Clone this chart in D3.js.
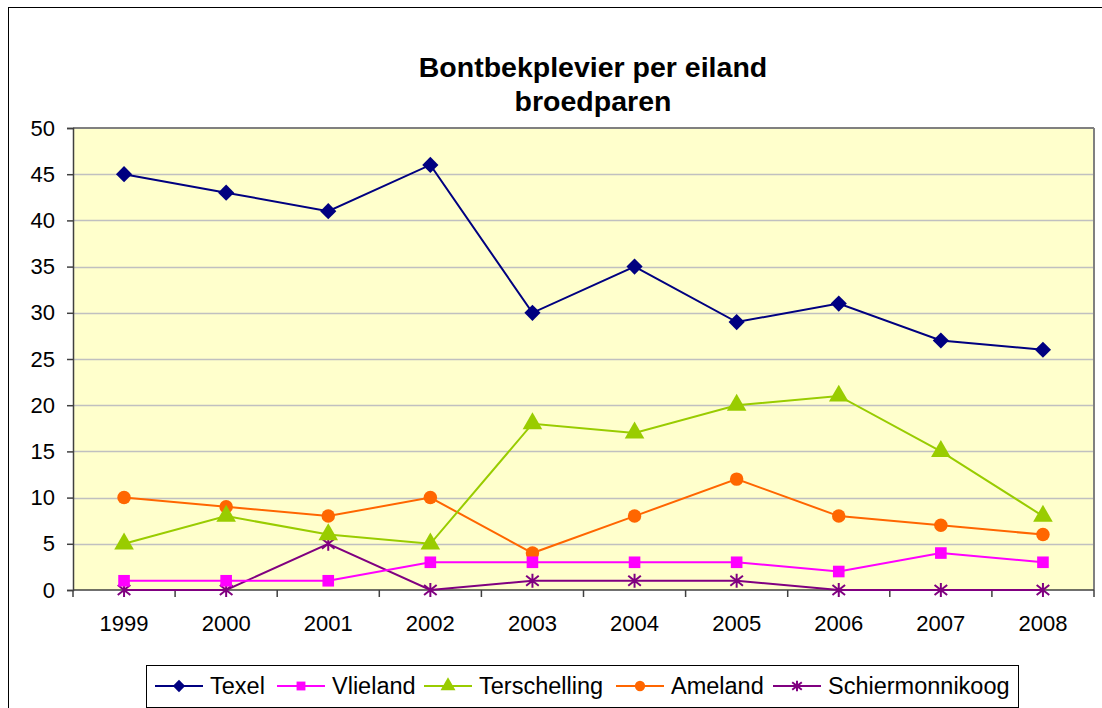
<!DOCTYPE html>
<html>
<head>
<meta charset="utf-8">
<script src="https://cdn.jsdelivr.net/npm/d3@7"></script>
<style>
  body { margin: 0; background: #fff; }
  svg { display: block; font-family: "Liberation Sans", Arial, sans-serif; }
</style>
</head>
<body>
<svg id="chart" width="1102" height="708"></svg>
<script>
const years = ["1999", "2000", "2001", "2002", "2003", "2004", "2005", "2006", "2007", "2008"];
const texel = [45, 43, 41, 46, 30, 35, 29, 31, 27, 26];
const vlieland = [1, 1, 1, 3, 3, 3, 3, 2, 4, 3];
const terschelling = [5, 8, 6, 5, 18, 17, 20, 21, 15, 8];
const ameland = [10, 9, 8, 10, 4, 8, 12, 8, 7, 6];
const schiermonnikoog = [0, 0, 5, 0, 1, 1, 1, 0, 0, 0];
const yTicks = [0, 5, 10, 15, 20, 25, 30, 35, 40, 45, 50];

const series = [
  { name: "Texel", values: texel, color: "#000080", symbol: "diamond" },
  { name: "Vlieland", values: vlieland, color: "#FF00FF", symbol: "square" },
  { name: "Terschelling", values: terschelling, color: "#99CC00", symbol: "triangle" },
  { name: "Ameland", values: ameland, color: "#FF6600", symbol: "circle" },
  { name: "Schiermonnikoog", values: schiermonnikoog, color: "#800080", symbol: "star" }
];

const svg = d3.select("#chart");
const plot = { left: 73, right: 1094, top: 128, bottom: 590 };

// rand van de grafiek
svg.append("rect")
  .attr("x", 8.5).attr("y", 7.5)
  .attr("width", 1110).attr("height", 720)
  .attr("fill", "#fff").attr("stroke", "#000").attr("stroke-width", 1);

// titel
svg.append("text")
  .attr("x", 593).attr("y", 77)
  .attr("text-anchor", "middle")
  .attr("font-size", 28.5).attr("font-weight", "bold")
  .text("Bontbekplevier per eiland");
svg.append("text")
  .attr("x", 593).attr("y", 111)
  .attr("text-anchor", "middle")
  .attr("font-size", 28.5).attr("font-weight", "bold")
  .text("broedparen");

const x = d3.scaleBand().domain(years).range([plot.left, plot.right]);
const y = d3.scaleLinear().domain([0, 50]).range([plot.bottom, plot.top]);

svg.append("rect")
  .attr("x", plot.left).attr("y", plot.top)
  .attr("width", plot.right - plot.left).attr("height", plot.bottom - plot.top)
  .attr("fill", "#FFFFCC");

// rasterlijnen
svg.append("g")
  .selectAll("line")
  .data(yTicks.filter(d => d > 0 && d < 50))
  .enter()
  .append("line")
  .attr("x1", plot.left).attr("x2", plot.right)
  .attr("y1", d => Math.round(y(d)) + 0.5).attr("y2", d => Math.round(y(d)) + 0.5)
  .attr("stroke", "#C0C0C0").attr("stroke-width", 1.5);

// kader plotgebied
svg.append("line")
  .attr("x1", plot.left).attr("x2", plot.right)
  .attr("y1", plot.top).attr("y2", plot.top)
  .attr("stroke", "#808080").attr("stroke-width", 2);
svg.append("line")
  .attr("x1", plot.right).attr("x2", plot.right)
  .attr("y1", plot.top).attr("y2", plot.bottom)
  .attr("stroke", "#808080").attr("stroke-width", 2);

// y-as
const yAxis = svg.append("g")
  .attr("transform", `translate(${plot.left},0)`)
  .call(d3.axisLeft(y).tickValues(yTicks).tickSize(6).tickPadding(12));
yAxis.select(".domain").attr("stroke", "#404040").attr("stroke-width", 1.5);
yAxis.selectAll(".tick line").attr("stroke", "#404040").attr("stroke-width", 1.5);
yAxis.selectAll(".tick text").attr("font-size", 22).attr("fill", "#000")
  .attr("font-family", "Liberation Sans, Arial, sans-serif");

// x-as
const xAxis = svg.append("g")
  .attr("transform", `translate(0,${plot.bottom})`);
xAxis.append("line")
  .attr("x1", plot.left).attr("x2", plot.right)
  .attr("stroke", "#404040").attr("stroke-width", 1.5);
xAxis.selectAll(".tk")
  .data(years.concat(["end"]))
  .enter()
  .append("line")
  .attr("x1", (d, i) => i < years.length ? x(d) : plot.right)
  .attr("x2", (d, i) => i < years.length ? x(d) : plot.right)
  .attr("y1", 0).attr("y2", 7)
  .attr("stroke", "#404040").attr("stroke-width", 1.5);
xAxis.selectAll("text")
  .data(years)
  .enter()
  .append("text")
  .attr("x", d => x(d) + x.bandwidth() / 2)
  .attr("y", 41)
  .attr("text-anchor", "middle")
  .attr("font-size", 22)
  .text(d => d);

const line = d3.line()
  .x((d, i) => x(years[i]) + x.bandwidth() / 2)
  .y(d => y(d));

function drawSymbol(g, type, color, size) {
  if (type === "star") {
    const r = size;
    g.append("path")
      .attr("d", `M${-r},${-r * 0.8}L${r},${r * 0.8}M${-r},${r * 0.8}L${r},${-r * 0.8}M0,${-r * 1.1}L0,${r * 1.1}`)
      .attr("stroke", color).attr("stroke-width", 2).attr("fill", "none");
    return;
  }
  const sym = {
    diamond: d3.symbol().type(d3.symbolDiamond2).size(size * size * 4.2),
    square: d3.symbol().type(d3.symbolSquare).size(size * size * 3.4),
    triangle: d3.symbol().type(d3.symbolTriangle).size(size * size * 4.2),
    circle: d3.symbol().type(d3.symbolCircle).size(size * size * 3.6)
  }[type];
  g.append("path").attr("d", sym()).attr("fill", color);
}

// volgorde tekenen: onderste reeks eerst
const drawOrder = [4, 3, 2, 1, 0];
drawOrder.forEach(si => {
  const s = series[si];
  svg.append("path")
    .datum(s.values)
    .attr("d", line)
    .attr("fill", "none")
    .attr("stroke", s.color)
    .attr("stroke-width", 2);
  s.values.forEach((v, i) => {
    const g = svg.append("g")
      .attr("transform", `translate(${x(years[i]) + x.bandwidth() / 2},${y(v)})`);
    drawSymbol(g, s.symbol, s.color, 6.3);
  });
});

// legenda
const legend = svg.append("g");
legend.append("rect")
  .attr("x", 146.5).attr("y", 665.5)
  .attr("width", 872).attr("height", 42)
  .attr("fill", "#fff").attr("stroke", "#000").attr("stroke-width", 1);

const legendX = [155, 277, 424, 616, 773];
series.forEach((s, i) => {
  const g = legend.append("g").attr("transform", `translate(${legendX[i]},686)`);
  g.append("line").attr("x1", 0).attr("x2", 48)
    .attr("stroke", s.color).attr("stroke-width", 2);
  const m = g.append("g").attr("transform", "translate(24,0)");
  drawSymbol(m, s.symbol, s.color, 4.8);
  g.append("text")
    .attr("x", 55).attr("y", 8)
    .attr("font-size", 23.5)
    .text(s.name);
});
</script>
</body>
</html>
